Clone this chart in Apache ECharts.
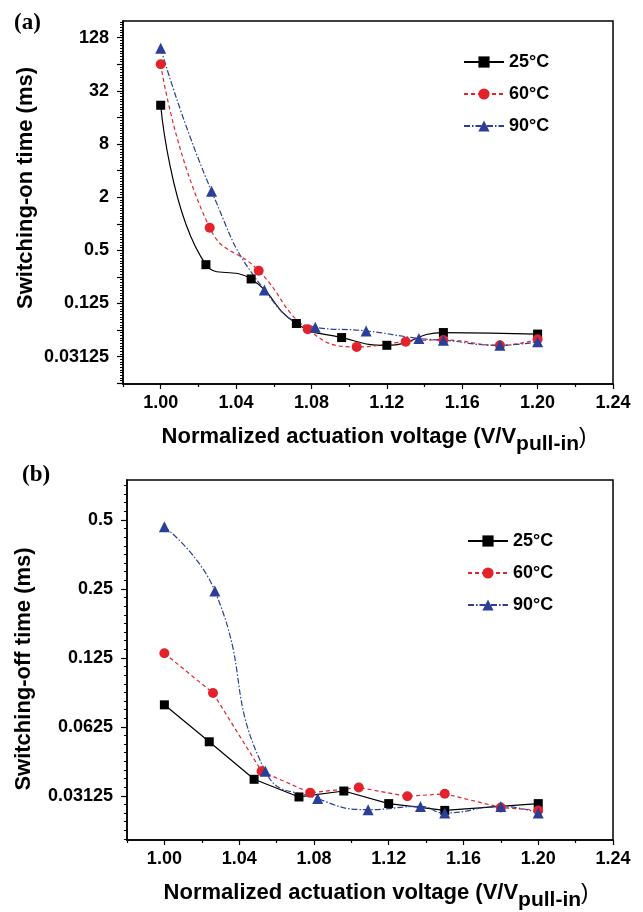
<!DOCTYPE html>
<html><head><meta charset="utf-8">
<script src="https://cdn.jsdelivr.net/npm/echarts@6/dist/echarts.min.js"></script>
<style>html,body{margin:0;padding:0;background:#fff}#c{width:643px;height:912px}</style>
</head><body><div id="c"></div>
<script>
const seriesNames = ['25°C', '60°C', '90°C'];
// (a) Switching-on time (ms)
const onX25 = [1.000, 1.024, 1.048, 1.072, 1.096, 1.120, 1.150, 1.200];
const onY25 = [22, 0.344, 0.237, 0.0742, 0.0514, 0.0420, 0.0586, 0.0563];
const onX60 = [1.000, 1.026, 1.052, 1.078, 1.104, 1.130, 1.150, 1.180, 1.200];
const onY60 = [64, 0.90, 0.294, 0.064, 0.0403, 0.0462, 0.0483, 0.042, 0.0492];
const onX90 = [1.000, 1.027, 1.055, 1.082, 1.109, 1.137, 1.150, 1.180, 1.200];
const onY90 = [97, 2.34, 0.178, 0.0674, 0.0611, 0.0503, 0.048, 0.042, 0.0462];
// (b) Switching-off time (ms)
const offX25 = [1.000, 1.024, 1.048, 1.072, 1.096, 1.120, 1.150, 1.200];
const offY25 = [0.078, 0.0538, 0.0369, 0.0309, 0.0328, 0.0289, 0.027, 0.0289];
const offX60 = [1.000, 1.026, 1.052, 1.078, 1.104, 1.130, 1.150, 1.180, 1.200];
const offY60 = [0.131, 0.0878, 0.040, 0.0322, 0.034, 0.0311, 0.0319, 0.0278, 0.027];
const offX90 = [1.000, 1.027, 1.054, 1.082, 1.109, 1.137, 1.150, 1.180, 1.200];
const offY90 = [0.467, 0.245, 0.040, 0.0304, 0.0272, 0.0281, 0.0263, 0.0281, 0.0263];
// ticks
const xTickLabels = [1.00, 1.04, 1.08, 1.12, 1.16, 1.20, 1.24];
const xMinorTicks = [0.98, 1.02, 1.06, 1.10, 1.14, 1.18, 1.22];
const onTickLabels = [0.03125, 0.125, 0.5, 2, 8, 32, 128];
const offTickLabels = [0.03125, 0.0625, 0.125, 0.25, 0.5];

const FONT = '"Liberation Sans", Arial, sans-serif';
const RED = '#e3232b', BLUE = '#2b3f98', BLACK = '#000';
const onRange = [0.01531, 198];
const offRange = [0.02005, 0.747];

function majorTicks(r) { const a = []; for (let k = -10; k <= 10; k++) { const v = Math.pow(2, k); if (v >= r[0] && v <= r[1]) a.push(v); } return a; }
function minorTicks(r, n) { const a = []; for (let k = -10; k <= 10; k++) for (let i = 1; i < n; i++) { const v = Math.pow(2, k + i / n); if (v >= r[0] && v <= r[1]) a.push(v); } return a; }

const labelStyle = { fontSize: 18, fontWeight: 'bold', color: '#000', fontFamily: FONT };

function xAxes(g) {
  return [
    { gridIndex: g, type: 'value', min: 0.98, max: 1.24, position: 'bottom',
      axisLine: { onZero: false, lineStyle: { color: '#000', width: 1.5 } },
      axisTick: { customValues: xTickLabels, length: 5, lineStyle: { color: '#000', width: 1.2 } },
      axisLabel: Object.assign({ customValues: xTickLabels, margin: 10, formatter: v => v.toFixed(2) }, labelStyle),
      splitLine: { show: false } },
    { gridIndex: g, type: 'value', min: 0.98, max: 1.24, position: 'bottom',
      axisLine: { show: false, onZero: false },
      axisTick: { customValues: xMinorTicks, length: 3, lineStyle: { color: '#000', width: 1.2 } },
      axisLabel: { show: false }, splitLine: { show: false } }
  ];
}
function yAxes(g, r, labels, n) {
  return [
    { gridIndex: g, type: 'log', logBase: 2, min: r[0], max: r[1], position: 'left',
      axisLine: { onZero: false, lineStyle: { color: '#000', width: 1.5 } },
      axisTick: { customValues: majorTicks(r), length: 6, lineStyle: { color: '#000', width: 1.2 } },
      axisLabel: Object.assign({ customValues: labels, margin: 14, formatter: v => String(+(+v).toPrecision(6)) }, labelStyle),
      splitLine: { show: false }, minorTick: { show: false } },
    { gridIndex: g, type: 'log', logBase: 2, min: r[0], max: r[1], position: 'left',
      axisLine: { show: false, onZero: false },
      axisTick: { customValues: minorTicks(r, n), length: 3, lineStyle: { color: '#000', width: 1 } },
      axisLabel: { show: false }, splitLine: { show: false } }
  ];
}
function mk(name, xs, ys, xi, yi, color, symbol, size, dash, smooth) {
  return { type: 'line', name, xAxisIndex: xi, yAxisIndex: yi,
    data: xs.map((x, i) => [x, ys[i]]), symbol, symbolSize: size, smooth,
    itemStyle: { color }, lineStyle: { color, width: 1.2, type: dash }, emphasis: { disabled: true } };
}
const DASH = [4, 3], DASHDOT = [6, 2, 1.5, 2];

const series = [
  mk(seriesNames[0], onX25, onY25, 0, 0, BLACK, 'rect', 9, 'solid', 0.5),
  mk(seriesNames[1], onX60, onY60, 0, 0, RED, 'circle', 10, DASH, 0.5),
  mk(seriesNames[2], onX90, onY90, 0, 0, BLUE, 'triangle', 11, DASHDOT, 0.5),
  mk(seriesNames[0], offX25, offY25, 2, 2, BLACK, 'rect', 9, 'solid', false),
  mk(seriesNames[1], offX60, offY60, 2, 2, RED, 'circle', 10, DASH, false),
  mk(seriesNames[2], offX90, offY90, 2, 2, BLUE, 'triangle', 11, DASHDOT, 0.5)
];

// measure for subscripted title
const cv = document.createElement('canvas').getContext('2d');
function tw(t, f) { cv.font = f; return cv.measureText(t).width; }
const fMain = 'bold 22px ' + FONT, fSub = 'bold 21px ' + FONT, fPar = '22px ' + FONT;
const tMain = 'Normalized actuation voltage (V/V', tSub = 'pull-in', tPar = ')';
function xTitle(cx, cy) {
  const w1 = tw(tMain, fMain), w2 = tw(tSub, fSub), w3 = tw(tPar, fPar);
  const x0 = cx - (w1 + w2 + w3) / 2;
  return [
    { type: 'text', x: x0, y: cy, style: { text: tMain, font: fMain, fill: '#000', align: 'left', verticalAlign: 'middle' } },
    { type: 'text', x: x0 + w1, y: cy + 7, style: { text: tSub, font: fSub, fill: '#000', align: 'left', verticalAlign: 'middle' } },
    { type: 'text', x: x0 + w1 + w2, y: cy, style: { text: tPar, font: fPar, fill: '#000', align: 'left', verticalAlign: 'middle' } }
  ];
}
function yTitle(t, cx, cy) {
  return { type: 'text', x: cx, y: cy, rotation: Math.PI / 2,
    style: { text: t, font: 'bold 22px ' + FONT, fill: '#000', align: 'center', verticalAlign: 'middle' } };
}
const legendBase = { orient: 'vertical', padding: 0, itemWidth: 40, itemHeight: 14, itemGap: 14,
  data: seriesNames, textStyle: { fontSize: 18, fontWeight: 'bold', color: '#000', fontFamily: FONT }, selectedMode: false };

const chart = echarts.init(document.getElementById('c'), null, { renderer: 'canvas' });
chart.setOption({
  animation: false,
  backgroundColor: '#fff',
  grid: [
    { left: 123, top: 21, width: 490, height: 363, show: true, borderColor: '#000', borderWidth: 1.5, backgroundColor: 'transparent' },
    { left: 127, top: 480, width: 486, height: 360, show: true, borderColor: '#000', borderWidth: 1.5, backgroundColor: 'transparent' }
  ],
  xAxis: [...xAxes(0), ...xAxes(1)],
  yAxis: [...yAxes(0, onRange, onTickLabels, 10), ...yAxes(1, offRange, offTickLabels, 8)],
  legend: [
    Object.assign({ left: 463, top: 53 }, legendBase),
    Object.assign({ left: 467, top: 532 }, legendBase)
  ],
  graphic: [
    { type: 'text', x: 14, y: 23, style: { text: '(a)', font: 'bold 23px "Liberation Serif", serif', fill: '#000', align: 'left', verticalAlign: 'middle' } },
    { type: 'text', x: 22, y: 475, style: { text: '(b)', font: 'bold 23px "Liberation Serif", serif', fill: '#000', align: 'left', verticalAlign: 'middle' } },
    yTitle('Switching-on time (ms)', 26, 188),
    yTitle('Switching-off time (ms)', 24, 669),
    ...xTitle(374, 437),
    ...xTitle(376, 893)
  ],
  series
});
</script>
</body></html>
